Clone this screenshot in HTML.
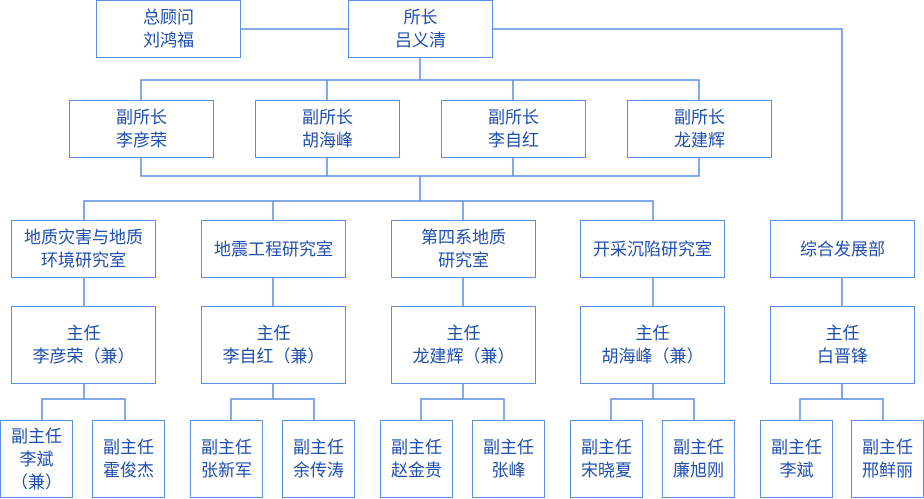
<!DOCTYPE html>
<html><head><meta charset="utf-8"><style>
body{margin:0;width:924px;height:499px;background:#fff;position:relative;overflow:hidden;font-family:"Liberation Sans","Noto Sans CJK SC",sans-serif;}
.b{position:absolute;box-sizing:border-box;border:1.5px solid #5a8fe3;background:#fff;display:flex;align-items:center;justify-content:center;text-align:center;color:#1f4fb0;font-size:17px;line-height:23px;}
svg{position:absolute;left:0;top:0;}
</style></head><body>
<svg width="924" height="499"><g stroke="#5a8fe3" stroke-width="1.5" fill="none">
<path d="M240 29H348M492 29H842V221"/>
<path d="M420 57V80M141 100V80H699V100M327 80V100M513 80V100"/>
<path d="M141 157V176H699V157M327 157V176M513 157V176M420 176V201"/>
<path d="M84 221V201H653V221M273 201V221M463 201V221"/>
<path d="M84 277V307M273 277V307M463 277V307M653 277V307M842 277V307"/>
<path d="M84 383V399M42 421V399H125V421"/>
<path d="M273 383V399M231 421V399H314V421"/>
<path d="M463 383V399M421 421V399H504V421"/>
<path d="M653 383V399M611 421V399H694V421"/>
<path d="M842 383V399M800 421V399H883V421"/>
</g></svg>
<div class="b" style="left:96px;top:0;width:145px;height:58px">总顾问<br>刘鸿福</div>
<div class="b" style="left:348px;top:0;width:145px;height:58px">所长<br>吕义清</div>
<div class="b" style="left:69px;top:100px;width:145px;height:58px">副所长<br>李彦荣</div>
<div class="b" style="left:255px;top:100px;width:145px;height:58px">副所长<br>胡海峰</div>
<div class="b" style="left:441px;top:100px;width:145px;height:58px">副所长<br>李自红</div>
<div class="b" style="left:627px;top:100px;width:145px;height:58px">副所长<br>龙建辉</div>
<div class="b" style="left:11px;top:220px;width:145px;height:58px">地质灾害与地质<br>环境研究室</div>
<div class="b" style="left:201px;top:220px;width:145px;height:58px">地震工程研究室</div>
<div class="b" style="left:391px;top:220px;width:145px;height:58px">第四系地质<br>研究室</div>
<div class="b" style="left:580px;top:220px;width:145px;height:58px">开采沉陷研究室</div>
<div class="b" style="left:770px;top:220px;width:145px;height:58px">综合发展部</div>
<div class="b" style="left:11px;top:306px;width:145px;height:78px">主任<br>李彦荣（兼）</div>
<div class="b" style="left:201px;top:306px;width:145px;height:78px">主任<br>李自红（兼）</div>
<div class="b" style="left:391px;top:306px;width:145px;height:78px">主任<br>龙建辉（兼）</div>
<div class="b" style="left:580px;top:306px;width:145px;height:78px">主任<br>胡海峰（兼）</div>
<div class="b" style="left:770px;top:306px;width:145px;height:78px">主任<br>白晋锋</div>
<div class="b" style="left:0;top:420px;width:73px;height:78px">副主任<br>李斌<br>（兼）</div>
<div class="b" style="left:92px;top:420px;width:73px;height:78px">副主任<br>霍俊杰</div>
<div class="b" style="left:190px;top:420px;width:73px;height:78px">副主任<br>张新军</div>
<div class="b" style="left:282px;top:420px;width:73px;height:78px">副主任<br>余传涛</div>
<div class="b" style="left:380px;top:420px;width:73px;height:78px">副主任<br>赵金贵</div>
<div class="b" style="left:472px;top:420px;width:73px;height:78px">副主任<br>张峰</div>
<div class="b" style="left:570px;top:420px;width:73px;height:78px">副主任<br>宋晓夏</div>
<div class="b" style="left:662px;top:420px;width:73px;height:78px">副主任<br>廉旭刚</div>
<div class="b" style="left:760px;top:420px;width:73px;height:78px">副主任<br>李斌</div>
<div class="b" style="left:851px;top:420px;width:73px;height:78px">副主任<br>邢鲜丽</div>
</body></html>
